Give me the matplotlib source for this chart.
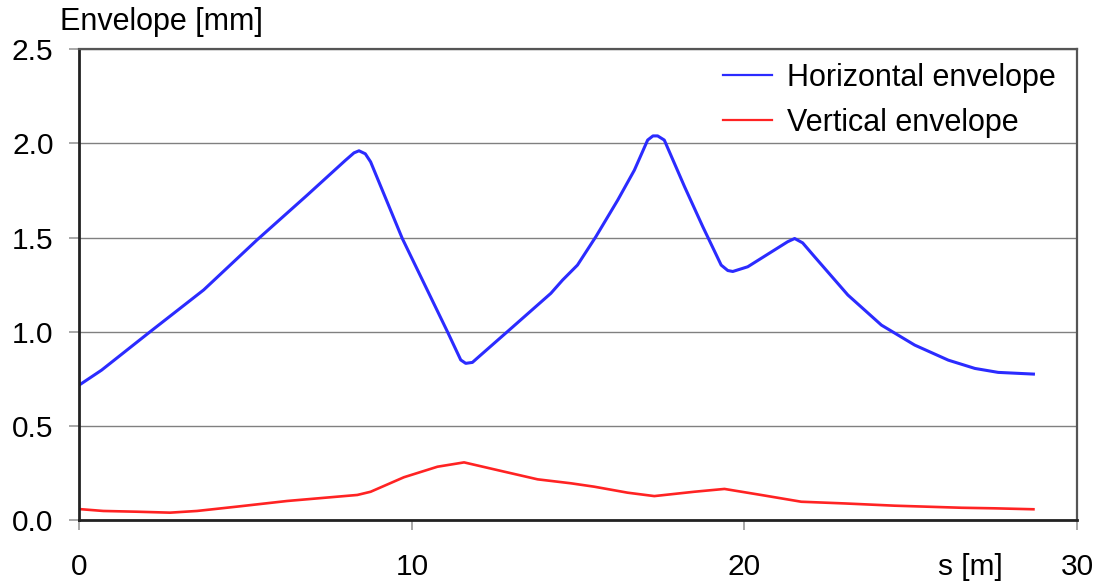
import matplotlib.pyplot as plt
from matplotlib.lines import Line2D

plt.rcParams['font.family'] = ['Liberation Sans', 'DejaVu Sans']

# horizontal envelope
s_h = [0.0, 0.67, 2.13, 3.74, 5.34, 6.85, 8.0, 8.26, 8.41, 8.6, 8.76, 9.71,
       11.07, 11.47, 11.62, 11.82, 12.07, 12.87, 14.18, 14.53, 14.98, 15.53,
       16.19, 16.69, 17.09, 17.25, 17.39, 17.59, 18.2, 18.75, 19.3, 19.5,
       19.65, 20.1, 21.3, 21.51, 21.75, 22.11, 23.11, 24.12, 25.12, 26.13,
       26.93, 27.63, 28.69]
h_env = [0.717, 0.796, 1.0, 1.222, 1.487, 1.725, 1.91, 1.950, 1.961, 1.945,
         1.902, 1.496, 1.0, 0.85, 0.832, 0.837, 0.876, 1.0, 1.204, 1.274,
         1.354, 1.504, 1.699, 1.858, 2.018, 2.04, 2.04, 2.018, 1.77, 1.557,
         1.354, 1.325, 1.32, 1.345, 1.478, 1.495, 1.472, 1.398, 1.195, 1.035,
         0.929, 0.849, 0.805, 0.784, 0.775]

# vertical envelope
s_v = [0, 0.72, 1.73, 2.73, 3.54, 4.74, 6.25, 8.36, 8.76, 9.76, 10.77, 11.57,
       12.77, 13.78, 14.78, 15.48, 16.49, 17.29, 18.49, 19.40, 20.5, 21.71,
       23.01, 24.52, 26.53, 27.53, 28.69]
v_env = [0.058, 0.048, 0.044, 0.039, 0.048, 0.071, 0.101, 0.133, 0.150, 0.227,
         0.283, 0.306, 0.257, 0.216, 0.195, 0.177, 0.145, 0.127, 0.150, 0.165,
         0.133, 0.097, 0.088, 0.076, 0.065, 0.062, 0.057]

xticks = [0, 10, 20, 30]
yticks = [0.0, 0.5, 1.0, 1.5, 2.0, 2.5]

blue = '#2b2bff'
red = '#ff2323'

fig = plt.figure(figsize=(11.01, 5.84), dpi=100)
ax = fig.add_axes([79.3 / 1101, 1 - 520 / 584, (1077 - 79.3) / 1101, (520 - 49.3) / 584])

ax.plot(s_h, h_env, color=blue, lw=2.2, solid_joinstyle='round')
ax.plot(s_v, v_env, color=red, lw=1.9, solid_joinstyle='round')

ax.set_xlim(0, 30)
ax.set_ylim(0, 2.5)
ax.set_xticks(xticks)
ax.set_xticklabels([str(t) for t in xticks])
ax.set_yticks(yticks)
ax.set_yticklabels([f'{t:.1f}' for t in yticks])
ax.yaxis.grid(True, color='#808080', lw=1.0)
ax.set_axisbelow(True)

ax.tick_params(axis='x', length=7, width=1.2, color='#999999', pad=17, labelsize=21.5)
ax.tick_params(axis='y', length=7.5, width=1.2, color='#999999', pad=11, labelsize=21.5)

for side in ['left', 'bottom']:
    ax.spines[side].set_color('#222222')
    ax.spines[side].set_linewidth(2.0)
for side in ['top', 'right']:
    ax.spines[side].set_color('#555555')
    ax.spines[side].set_linewidth(1.6)

# axis name sits on the tick-label row, between 20 and 30
ax.text(26.8, -0.0708, 's [m]', transform=ax.get_xaxis_transform(), fontsize=21.5,
        ha='center', va='top')

fig.text(60 / 1101, 1 - 30 / 584, 'Envelope [mm]', fontsize=22, ha='left', va='baseline')

handles = [Line2D([], [], color=blue, lw=1.6), Line2D([], [], color=red, lw=1.6)]
ax.legend(handles, ['Horizontal envelope', 'Vertical envelope'], frameon=False,
          loc='upper left', bbox_to_anchor=(723 / 1101, 1 - 63 / 584),
          bbox_transform=fig.transFigure, fontsize=22, handlelength=1.6,
          handletextpad=0.48, labelspacing=0.48, borderpad=0, borderaxespad=0)

fig.savefig('out.png', dpi=100)
